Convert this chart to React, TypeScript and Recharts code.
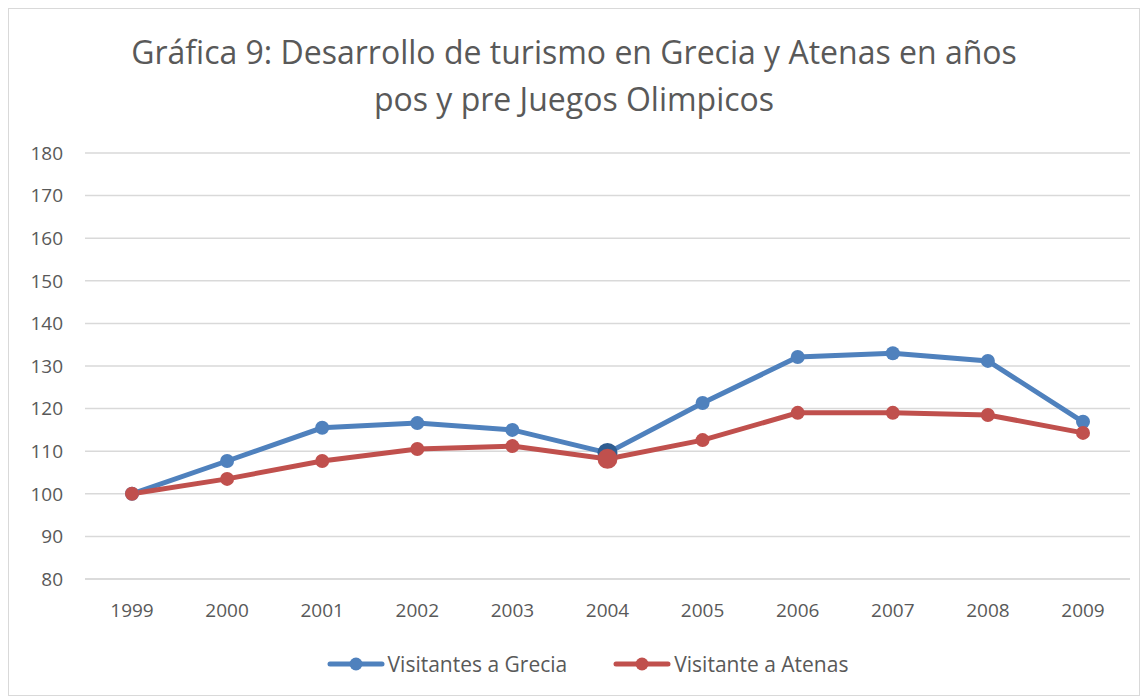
import { CartesianGrid, Legend, Line, LineChart, XAxis, YAxis } from "recharts"

const years = ["1999", "2000", "2001", "2002", "2003", "2004", "2005", "2006", "2007", "2008", "2009"]
const grecia = [100, 107.7, 115.5, 116.6, 115.0, 109.6, 121.3, 132.1, 133.0, 131.2, 116.9]
const atenas = [100, 103.5, 107.7, 110.5, 111.2, 108.2, 112.6, 119.0, 119.0, 118.5, 114.3]
const yTicks = [80, 90, 100, 110, 120, 130, 140, 150, 160, 170, 180]
const highlightYear = "2004"

const titleLines = [
  "Gráfica 9: Desarrollo de turismo en Grecia y Atenas en años",
  "pos y pre Juegos Olimpicos",
]

const series = [
  { key: "grecia", name: "Visitantes a Grecia", color: "#4f81bd", accent: "#2f5d91" },
  { key: "atenas", name: "Visitante a Atenas", color: "#c0504d", accent: "#c0504d" },
]

const data = years.map((year, i) => ({ year, grecia: grecia[i], atenas: atenas[i] }))

const font = "'Open Sans', sans-serif"
const textColor = "#595959"
const gridColor = "#d9d9d9"

function makeDot(color: string, accent: string) {
  return (props: any) => {
    const { cx, cy, payload, index } = props
    if (cx == null || cy == null) return <g key={index} />
    const big = payload.year === highlightYear
    return <circle key={index} cx={cx} cy={cy} r={big ? 10 : 7} fill={big ? accent : color} stroke="none" />
  }
}

function LegendContent() {
  return (
    <div
      style={{
        display: "flex",
        justifyContent: "center",
        gap: 46,
        paddingLeft: 36,
        fontFamily: font,
        fontSize: 21,
        color: textColor,
      }}
    >
      {series.map((s) => (
        <div key={s.key} style={{ display: "flex", alignItems: "center" }}>
          <svg width={58} height={16} style={{ marginRight: 3 }}>
            <line x1={3} y1={8} x2={55} y2={8} stroke={s.color} strokeWidth={5} strokeLinecap="round" />
            <circle cx={29} cy={8} r={6.5} fill={s.color} />
          </svg>
          <span>{s.name}</span>
        </div>
      ))}
    </div>
  )
}

export default function App() {
  return (
    <div
      style={{
        position: "relative",
        width: 1132,
        height: 688,
        border: `1px solid ${gridColor}`,
        boxSizing: "border-box",
        background: "#fff",
      }}
    >
      <div
        style={{
          position: "absolute",
          top: 19,
          left: 0,
          width: "100%",
          textAlign: "center",
          fontFamily: font,
          fontSize: 32,
          lineHeight: "47px",
          color: textColor,
        }}
      >
        {titleLines.map((l) => (
          <div key={l}>{l}</div>
        ))}
      </div>
      <LineChart
        width={1130}
        height={686}
        data={data}
        margin={{ top: 144, right: 9, bottom: 9, left: 0 }}
      >
        <CartesianGrid vertical={false} stroke={gridColor} strokeWidth={1.5} />
        <XAxis
          dataKey="year"
          axisLine={{ stroke: gridColor, strokeWidth: 1.5 }}
          tickLine={false}
          tickMargin={19}
          height={71}
          padding={{ left: 47, right: 47 }}
          tick={{ fill: textColor, fontSize: 19, fontFamily: font }}
        />
        <YAxis
          domain={[80, 180]}
          ticks={yTicks}
          width={76}
          axisLine={false}
          tickLine={false}
          tickMargin={16}
          tick={{ fill: textColor, fontSize: 19, fontFamily: font }}
        />
        <Legend verticalAlign="bottom" content={<LegendContent />} height={36} />
        {series.map((s) => (
          <Line
            key={s.key}
            dataKey={s.key}
            name={s.name}
            stroke={s.color}
            strokeWidth={5}
            dot={makeDot(s.color, s.accent)}
            activeDot={false}
            isAnimationActive={false}
          />
        ))}
      </LineChart>
    </div>
  )
}
